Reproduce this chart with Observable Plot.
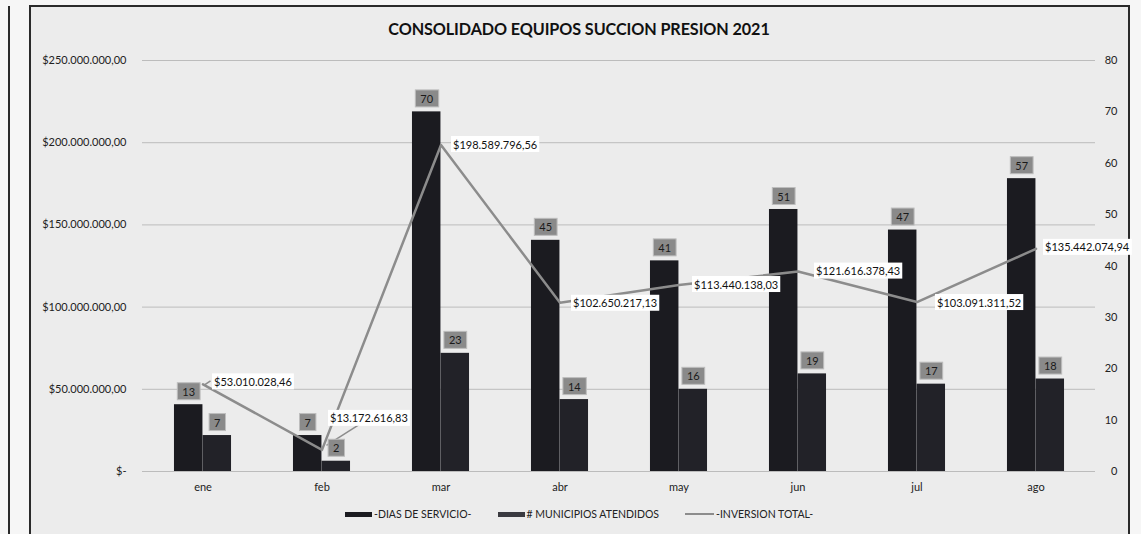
<!DOCTYPE html>
<html>
<head>
<meta charset="utf-8">
<script src="https://cdn.jsdelivr.net/npm/d3@7"></script>
<script src="https://cdn.jsdelivr.net/npm/@observablehq/plot@0.6"></script>
<style>
  html, body { margin: 0; padding: 0; background: #f6f6f6; }
  #page { position: relative; width: 1141px; height: 534px; overflow: hidden; font-family: Lato, "Open Sans", sans-serif; }
  #outerLine { position: absolute; left: 8px; top: 6px; width: 2px; height: 540px; background: #2a2a2a; }
  #frame { position: absolute; left: 29px; top: 5px; width: 1097px; height: 540px; border: 2px solid #2a2a2a; border-bottom: none; background: #ececec; }
  #title { position: absolute; left: 0; width: 1158px; top: 19px; text-align: center; font-weight: 700; font-size: 16.2px; color: #111; letter-spacing: -0.1px; }
  #chart { position: absolute; left: 0; top: 0; }
  #legend { position: absolute; top: 508px; left: 345px; display: flex; align-items: center; font-size: 10.5px; color: #222; white-space: nowrap; }
  .sw { display: inline-block; width: 27px; height: 5px; margin-right: 2px; }
  .swl { display: inline-block; width: 29px; height: 2px; background: #8c8c8c; margin-right: 2px; }
  .item { display: flex; align-items: center; }
</style>
</head>
<body>
<div id="page">
  <div id="outerLine"></div>
  <div id="frame"></div>
  <div id="chart"></div>
  <div id="title">CONSOLIDADO EQUIPOS SUCCION PRESION 2021</div>
  <div id="legend">
    <span class="item"><span class="sw" style="background:#1b1b20"></span>-DIAS DE SERVICIO-</span>
    <span class="item" style="margin-left:26px"><span class="sw" style="background:#3a3a40"></span># MUNICIPIOS ATENDIDOS</span>
    <span class="item" style="margin-left:26px"><span class="swl"></span>-INVERSION TOTAL-</span>
  </div>
</div>
<script>
// ---- data ----
const months = ["ene", "feb", "mar", "abr", "may", "jun", "jul", "ago"];
const diasServicio = [13, 7, 70, 45, 41, 51, 47, 57];
const municipiosAtendidos = [7, 2, 23, 14, 16, 19, 17, 18];
const inversionTotal = [53010028.46, 13172616.83, 198589796.56, 102650217.13, 113440138.03, 121616378.43, 103091311.52, 135442074.94];
const leftTicks = [0, 50000000, 100000000, 150000000, 200000000, 250000000];
const rightTicks = [0, 10, 20, 30, 40, 50, 60, 70, 80];

// ---- helpers ----
const K = 250000000 / 80; // right axis (count) -> left axis (money)
const loc = d3.formatLocale({decimal: ",", thousands: ".", grouping: [3], currency: ["$", ""]});
const money = loc.format("$,.2f");

const rows = months.map((m, i) => ({
  month: m,
  dias: diasServicio[i],
  muni: municipiosAtendidos[i],
  inv: inversionTotal[i]
}));

const W = 1141, H = 534;
const mL = 142, mR = 46;
const step = (W - mL - mR) / months.length;
const bw = step * 0.24;

// nudges for the line's data labels (pixels)
const labDx = [11, 8, 12, 13, 15, 18, 20, 9];
const labDy = [-2, -31, 0, 1, 0, 0, 1, -1];

const plot = Plot.plot({
  width: W,
  height: H,
  marginLeft: mL,
  marginRight: mR,
  marginTop: 60,
  marginBottom: 63,
  style: {background: "transparent", fontFamily: "Lato, 'Open Sans', sans-serif", fontSize: "11px", color: "#222"},
  x: {type: "band", domain: months, padding: 0, axis: null, label: null},
  y: {domain: [0, 250000000], axis: null, label: null},
  marks: [
    Plot.ruleY(leftTicks, {stroke: "#bcbcbc", strokeWidth: 1}),
    Plot.axisY({anchor: "left", label: null, ticks: leftTicks, tickSize: 0, tickPadding: 16,
      tickFormat: d => d === 0 ? "$-" : money(d), fill: "#222", fontSize: 11}),
    Plot.axisY({anchor: "right", label: null, ticks: rightTicks.map(v => v * K), tickSize: 0, tickPadding: 22,
      textAnchor: "end", tickFormat: d => String(Math.round(d / K)), fill: "#222", fontSize: 11}),
    Plot.axisX({label: null, tickSize: 0, tickPadding: 12, fill: "#222", fontSize: 11}),
    Plot.barY(rows, {x: "month", y: d => d.dias * K, fill: "#1b1b20",
      insetLeft: step / 2 - bw, insetRight: step / 2}),
    Plot.barY(rows, {x: "month", y: d => d.muni * K, fill: "#222228",
      insetLeft: step / 2, insetRight: step / 2 - bw}),
    Plot.line(rows, {x: "month", y: "inv", stroke: "#8c8c8c", strokeWidth: 2.5}),
    // leader lines for ene / feb labels
    (index, scales) => {
      const g = d3.create("svg:g");
      const cx = m => scales.x(m) + scales.x.bandwidth() / 2;
      const pFeb = [cx("feb"), scales.y(inversionTotal[1])];
      g.append("path").attr("d", `M${pFeb[0] + 5},${pFeb[1] - 4}L${pFeb[0] + 38},${pFeb[1] - 25}`)
        .attr("stroke", "#8c8c8c").attr("stroke-width", 1.5).attr("fill", "none");
      const pEne = [cx("ene"), scales.y(inversionTotal[0])];
      g.append("path").attr("d", `M${pEne[0] + 2},${pEne[1] + 1}L${pEne[0] + 8},${pEne[1] - 3}`)
        .attr("stroke", "#8c8c8c").attr("stroke-width", 1.5).attr("fill", "none");
      return g.node();
    },
    Plot.text(rows, {x: "month", y: d => d.dias * K, text: d => String(d.dias),
      dx: -bw / 2, dy: -12.5, fill: "#1a1a1a", fontSize: 11}),
    Plot.text(rows, {x: "month", y: d => d.muni * K, text: d => String(d.muni),
      dx: bw / 2, dy: -12.5, fill: "#1a1a1a", fontSize: 11}),
    Plot.text(rows, {x: "month", y: "inv", text: d => money(d.inv),
      dx: 0, dy: 0, textAnchor: "start", fill: "#111", fontSize: 11})
  ]
});

document.getElementById("chart").append(plot);

// per-label nudges and background boxes
const groups = plot.querySelectorAll('g[aria-label="text"]');
groups.forEach((g, gi) => {
  const texts = g.querySelectorAll("text");
  texts.forEach((t, i) => {
    if (gi === 2) {
      const tr = t.getAttribute("transform") || "";
      t.setAttribute("transform", tr + ` translate(${labDx[i]},${labDy[i]})`);
    }
    const bb = t.getBBox();
    const r = document.createElementNS("http://www.w3.org/2000/svg", "rect");
    const px = gi === 2 ? 2 : 5, py = gi === 2 ? 1.5 : 2;
    r.setAttribute("x", bb.x - px);
    r.setAttribute("y", bb.y - py);
    r.setAttribute("width", bb.width + 2 * px);
    r.setAttribute("height", bb.height + 2 * py);
    r.setAttribute("transform", t.getAttribute("transform") || "");
    r.setAttribute("fill", gi === 2 ? "#ffffff" : "#8a8a8a");
    if (gi !== 2) { r.setAttribute("stroke", "#bdbdbd"); r.setAttribute("stroke-width", "1"); }
    t.parentNode.insertBefore(r, t);
  });
});
</script>
</body>
</html>
